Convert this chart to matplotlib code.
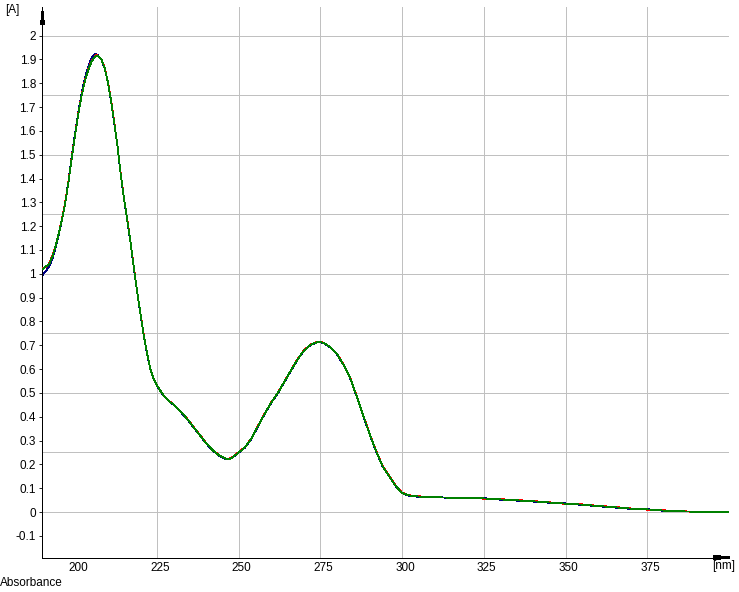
import matplotlib
matplotlib.use("Agg")
import matplotlib.pyplot as plt
import matplotlib.transforms as mtransforms
from matplotlib.lines import Line2D

plt.rcParams['font.family'] = ['Liberation Sans', 'DejaVu Sans']
plt.rcParams['lines.antialiased'] = False

# ---- data -------------------------------------------------------------
wavelength = [190, 191, 192, 193, 194, 195, 196, 197, 198, 199, 200, 201, 202,
              203, 204, 205, 206, 206.5, 207, 208, 209, 210, 211, 212, 213, 214,
              215, 216, 217, 218, 219, 220, 221, 222, 223, 224, 225, 226, 227,
              228, 229, 230, 232, 234, 236, 238, 240, 242, 244, 246, 247, 248,
              250, 252, 254, 256, 258, 260, 262, 264, 266, 268, 270, 272, 274,
              275, 276, 278, 280, 282, 284, 286, 288, 290, 292, 294, 296, 298,
              300, 302, 304, 306, 310, 315, 320, 325, 330, 335, 340, 345, 350,
              355, 360, 365, 370, 375, 380, 385, 390, 395, 400]

abs_green = [1.020, 1.030, 1.040, 1.070, 1.115, 1.170, 1.230, 1.300, 1.390, 1.490,
             1.585, 1.675, 1.750, 1.810, 1.856, 1.890, 1.910, 1.916, 1.914, 1.900,
             1.865, 1.805, 1.725, 1.630, 1.530, 1.410, 1.310, 1.220, 1.125, 1.020,
             0.920, 0.830, 0.740, 0.665, 0.600, 0.560, 0.532, 0.510, 0.490, 0.475,
             0.462, 0.452, 0.425, 0.395, 0.360, 0.325, 0.290, 0.260, 0.238, 0.224,
             0.222, 0.228, 0.250, 0.272, 0.310, 0.363, 0.413, 0.460, 0.500, 0.547,
             0.594, 0.640, 0.678, 0.702, 0.713, 0.713, 0.710, 0.692, 0.665, 0.620,
             0.567, 0.490, 0.410, 0.330, 0.257, 0.193, 0.152, 0.110, 0.080, 0.070,
             0.066, 0.064, 0.062, 0.060, 0.059, 0.057, 0.053, 0.049, 0.045, 0.040,
             0.035, 0.031, 0.025, 0.020, 0.014, 0.011, 0.006, 0.003, 0.001, 0.000,
             0.000]

abs_red = [1.025, 1.028, 1.042, 1.075, 1.118, 1.172, 1.232, 1.305, 1.392, 1.493,
           1.587, 1.677, 1.752, 1.812, 1.858, 1.892, 1.911, 1.918, 1.915, 1.901,
           1.866, 1.806, 1.726, 1.631, 1.531, 1.411, 1.311, 1.221, 1.126, 1.021,
           0.921, 0.831, 0.741, 0.666, 0.601, 0.561, 0.533, 0.511, 0.491, 0.476,
           0.463, 0.453, 0.426, 0.396, 0.361, 0.326, 0.291, 0.261, 0.239, 0.225,
           0.223, 0.229, 0.251, 0.273, 0.311, 0.364, 0.414, 0.461, 0.501, 0.548,
           0.595, 0.641, 0.679, 0.703, 0.714, 0.714, 0.711, 0.693, 0.666, 0.621,
           0.568, 0.491, 0.411, 0.331, 0.258, 0.194, 0.153, 0.111, 0.081, 0.071,
           0.067, 0.065, 0.061, 0.061, 0.060, 0.056, 0.054, 0.050, 0.046, 0.041,
           0.034, 0.032, 0.026, 0.021, 0.015, 0.010, 0.007, 0.004, 0.000, 0.001,
           0.000]

abs_blue = [0.995, 1.010, 1.030, 1.062, 1.108, 1.166, 1.228, 1.302, 1.395, 1.498,
            1.592, 1.682, 1.760, 1.822, 1.870, 1.905, 1.922, 1.922, 1.916, 1.899,
            1.864, 1.804, 1.724, 1.629, 1.529, 1.409, 1.309, 1.219, 1.124, 1.019,
            0.919, 0.829, 0.739, 0.664, 0.599, 0.559, 0.531, 0.509, 0.489, 0.474,
            0.461, 0.451, 0.424, 0.394, 0.359, 0.324, 0.289, 0.259, 0.237, 0.223,
            0.221, 0.227, 0.249, 0.271, 0.309, 0.362, 0.412, 0.459, 0.499, 0.546,
            0.593, 0.639, 0.677, 0.701, 0.712, 0.712, 0.709, 0.691, 0.664, 0.619,
            0.566, 0.489, 0.409, 0.329, 0.256, 0.192, 0.151, 0.109, 0.079, 0.069,
            0.065, 0.063, 0.063, 0.059, 0.058, 0.058, 0.052, 0.048, 0.044, 0.039,
            0.036, 0.030, 0.024, 0.019, 0.013, 0.012, 0.005, 0.002, 0.002, 0.000,
            0.000]

x_ticks = [200, 225, 250, 275, 300, 325, 350, 375]
x_grid = [225, 250, 275, 300, 325, 350, 375]
y_ticks = [-0.1, 0, 0.1, 0.2, 0.3, 0.4, 0.5, 0.6, 0.7, 0.8, 0.9, 1, 1.1, 1.2,
           1.3, 1.4, 1.5, 1.6, 1.7, 1.8, 1.9, 2]
y_grid = [0, 0.25, 0.5, 0.75, 1.0, 1.25, 1.5, 1.75, 2.0]

# ---- figure -----------------------------------------------------------
W, H = 739, 592
fig = plt.figure(figsize=(W / 100, H / 100), dpi=100)
left_px, right_px, top_px, bottom_px = 41.5, 729, 7, 557.5
ax = fig.add_axes([left_px / W, 1 - bottom_px / H,
                   (right_px - left_px) / W, (bottom_px - top_px) / H])
ax.set_xlim(189.7, 400)
ax.set_ylim(-0.191, 2.12)

LW = 0.6
grid_color = '#c0c0c0'
for gx in x_grid:
    ax.axvline(gx, color=grid_color, lw=LW, zorder=1)
for gy in y_grid:
    ax.axhline(gy, color=grid_color, lw=LW, zorder=1)

ax.plot(wavelength, abs_blue, color='#000080', lw=LW, zorder=2)
ax.plot(wavelength, abs_red, color='#ff0000', lw=LW, zorder=3)
ax.plot(wavelength, abs_green, color='#008000', lw=LW, zorder=4)

for s in ['top', 'right']:
    ax.spines[s].set_visible(False)
for s in ['left', 'bottom']:
    ax.spines[s].set_color('black')
    ax.spines[s].set_linewidth(LW)
    ax.spines[s].set_antialiased(False)

ax.set_xticks(x_ticks)
ax.set_xticklabels([str(v) for v in x_ticks])
ax.set_yticks(y_ticks)
ax.set_yticklabels(['%g' % v for v in y_ticks])
ax.tick_params(axis='x', length=0, pad=3.5, labelsize=8.5, colors='black')
ax.tick_params(axis='y', direction='out', length=2, width=LW, pad=2,
               labelsize=8.5, colors='black')
offset = mtransforms.ScaledTranslation(3 / 100, 0, fig.dpi_scale_trans)
for lab in ax.get_xticklabels():
    lab.set_transform(lab.get_transform() + offset)

# axis arrow bars, drawn as thick butt-capped lines in figure pixels
def bar_px(x0, y0, x1, y1, thick_px):
    fig.add_artist(Line2D([x0 / W, x1 / W], [1 - y0 / H, 1 - y1 / H],
                          transform=fig.transFigure, color='black',
                          lw=thick_px * 0.72, solid_capstyle='butt',
                          antialiased=False, zorder=10))

bar_px(41.5, 11, 41.5, 24, 3)
bar_px(41.5, 19.5, 41.5, 24, 5)
bar_px(713, 557, 729, 557, 3)
bar_px(713, 557, 720, 557, 5)

# labels
fig.text(5 / W, 1 - 4 / H, '[A]', ha='left', va='top', fontsize=8.5)
fig.text(712 / W, 1 - 560.5 / H, '[nm]', ha='left', va='top', fontsize=8.5)
fig.text(0 / W, 1 - 577 / H, 'Absorbance', ha='left', va='top', fontsize=8.5)

# window border on the right
fig.add_artist(Line2D([738.5 / W, 738.5 / W], [0, 1], color='#a0a0a0',
                      lw=LW, transform=fig.transFigure))

fig.savefig('out.png', dpi=100)
